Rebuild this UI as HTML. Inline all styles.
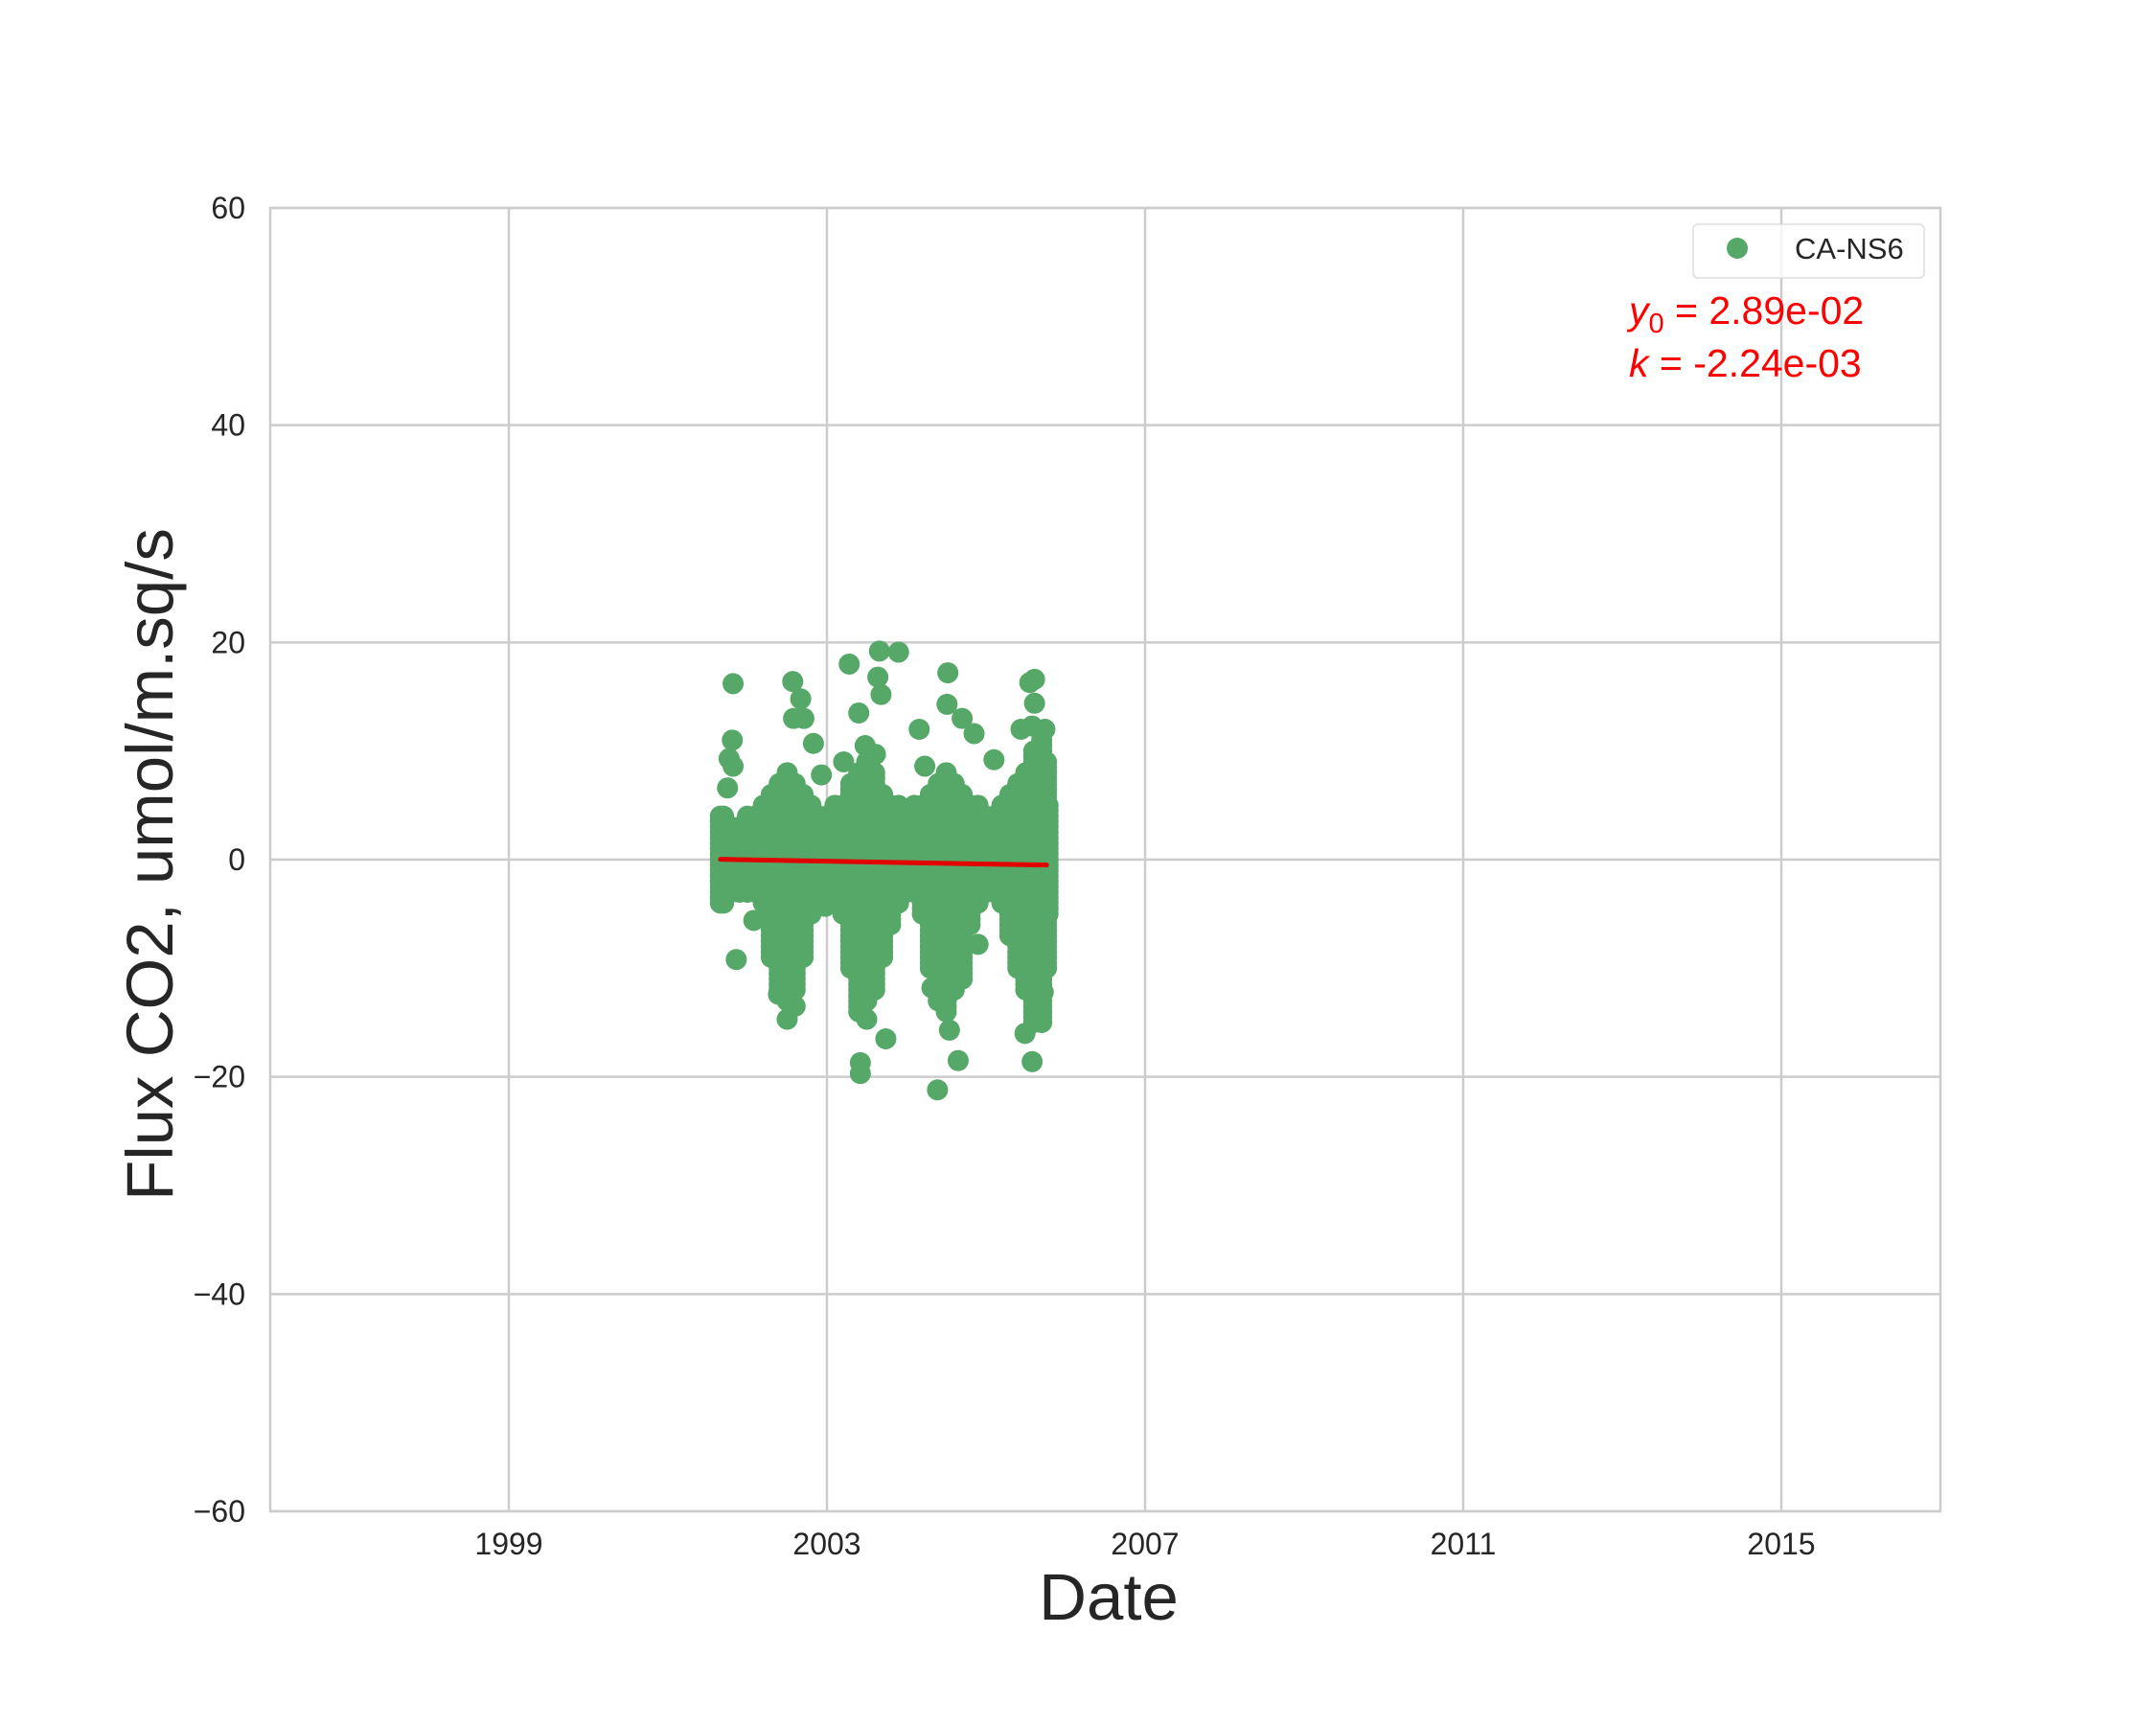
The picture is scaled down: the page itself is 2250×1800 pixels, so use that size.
<!DOCTYPE html>
<html><head><meta charset="utf-8"><style>
html,body{margin:0;padding:0;background:#fff;}
svg{display:block;font-family:"Liberation Sans",Arial,sans-serif;}
</style></head><body>
<svg id="chart" width="2250" height="1800" viewBox="0 0 2250 1800"></svg>
<script>
const yTicks=[-60,-40,-20,0,20,40,60];
const xTicks=[1999,2003,2007,2011,2015];
const bandDates=[2001.66,2001.7,2001.8,2001.9,2002.0,2002.1,2002.2,2002.3,2002.4,2002.5,2002.6,2002.7,2002.8,2002.9,2003.0,2003.1,2003.2,2003.3,2003.4,2003.5,2003.6,2003.7,2003.8,2003.9,2004.0,2004.1,2004.2,2004.3,2004.4,2004.5,2004.6,2004.7,2004.8,2004.9,2005.0,2005.1,2005.2,2005.3,2005.4,2005.5,2005.6,2005.7,2005.76,2005.78];
const bandLow=[-4,-4,-3,-3,-3,-3,-4,-9,-12,-13,-12,-9,-5,-4,-3,-3,-5,-10,-14,-13,-12,-9,-6,-4,-3,-3,-5,-10,-13,-14,-12,-11,-6,-4,-3,-3,-4,-7,-10,-12,-15,-15,-10,-5];
const bandHigh=[4,4,3,3,4,4,5,6,7,8,7,6,5,4,4,5,5,7,8,9,8,6,5,5,4,5,5,6,7,8,7,6,5,5,4,4,5,6,7,8,10,11,9,5];
const outDates=[2001.82,2001.81,2001.77,2001.82,2001.75,2001.86,2002.08,2002.57,2002.67,2002.58,2002.71,2002.39,2002.50,2002.60,2002.83,2002.93,2003.28,2003.40,2003.66,2003.90,2003.64,2003.68,2003.48,2003.61,2003.42,2003.42,2003.74,2003.50,2004.16,2004.23,2004.52,2004.51,2004.70,2004.85,2005.10,2004.39,2004.65,2004.32,2004.54,2004.90,2005.55,2005.61,2005.61,2005.44,2005.58,2005.74,2005.58,2005.49,2005.72,2003.21,2002.98,2002.34];
const outVals=[16.2,11,9.3,8.6,6.6,-9.2,-5.6,16.4,14.8,13,13,-12.4,-14.7,-13.5,10.7,7.8,18,13.5,19.2,19.1,16.8,15.2,10.5,9.7,-18.7,-19.7,-16.5,-14.7,12,8.6,17.2,14.3,13,11.6,9.2,-21.2,-18.5,-11.8,-15.7,-7.8,16.3,16.6,14.4,12,12.3,12,-18.6,-16,-12.2,9,-4.3,-1];
const trendX=[2001.66,2005.76];
const trendY=[0.03,-0.5];

const L=282,R=2025,T=217,B=1577,X0=1996,X1=2017,Y0=-60,Y1=60;
const sx=v=>L+(v-X0)/(X1-X0)*(R-L);
const sy=v=>B-(v-Y0)/(Y1-Y0)*(B-T);
const NS="http://www.w3.org/2000/svg";
const svg=document.getElementById('chart');
function mk(tag,attrs,parent){const e=document.createElementNS(NS,tag);for(const k in attrs)e.setAttribute(k,attrs[k]);(parent||svg).appendChild(e);return e;}

const grid=mk('g',{});


yTicks.forEach(v=>{
  const l=mk('line',{x1:L,x2:R,y1:sy(v),y2:sy(v),stroke:'#cccccc','stroke-width':2.5},grid);
  
  
  const t=mk('text',{x:256,y:sy(v)+11,'text-anchor':'end','font-size':32,fill:'#262626'});
  t.textContent=(v<0?'\u2212'+(-v):v);
  
  
});
xTicks.forEach(v=>{
  const l=mk('line',{x1:sx(v),x2:sx(v),y1:T,y2:B,stroke:'#cccccc','stroke-width':2.5},grid);
  
  
  const t=mk('text',{x:sx(v),y:1622,'text-anchor':'middle','font-size':32,fill:'#262626'});
  t.textContent=v;
  
  
});
const frame=mk('rect',{x:L,y:T,width:R-L,height:B-T,fill:'none',stroke:'#cccccc','stroke-width':2.5});



const pts=mk('g',{fill:'#55a868'});


bandDates.forEach((d,i)=>{
  for(let v=bandLow[i];v<=bandHigh[i]+0.001;v+=0.5){
    const c=mk('circle',{cx:sx(d),cy:sy(v),r:11},pts);
    
    
  }
});
outDates.forEach((d,i)=>{
  const c=mk('circle',{cx:sx(d),cy:sy(outVals[i]),r:11},pts);
  
  
});
const tl=mk('line',{x1:sx(trendX[0]),y1:sy(trendY[0]),x2:sx(trendX[1]),y2:sy(trendY[1]),stroke:'#e00000','stroke-width':5,'stroke-linecap':'round'});


</script>
<div style="position:absolute;left:0;top:0;width:2250px;height:1800px;pointer-events:none">
<svg width="2250" height="1800" style="position:absolute;left:0;top:0">
  <g>
    <rect x="1767" y="234" width="241" height="56" rx="5" fill="#fff" fill-opacity="0.8" stroke="#dddddd" stroke-width="1.5"/>
    <circle cx="1813" cy="259" r="11" fill="#55a868"/>
    <text x="1873" y="270" font-size="31" fill="#262626" font-family="Liberation Sans, sans-serif">CA-NS6</text>
  </g>
  <text x="1700" y="338" font-size="41" fill="#ff0000" font-family="Liberation Sans, sans-serif"><tspan font-style="italic">y</tspan><tspan font-size="29" dy="9">0</tspan><tspan dy="-9"> = 2.89e-02</tspan></text>
  <text x="1700" y="393" font-size="41" fill="#ff0000" font-family="Liberation Sans, sans-serif"><tspan font-style="italic">k</tspan> = -2.24e-03</text>
  <text x="1157" y="1690" font-size="69" fill="#262626" text-anchor="middle" font-family="Liberation Sans, sans-serif">Date</text>
  <text x="0" y="0" font-size="69" fill="#262626" text-anchor="middle" font-family="Liberation Sans, sans-serif" transform="translate(180,902) rotate(-90)">Flux CO2, umol/m.sq/s</text>
</svg>
</div>
</body></html>
